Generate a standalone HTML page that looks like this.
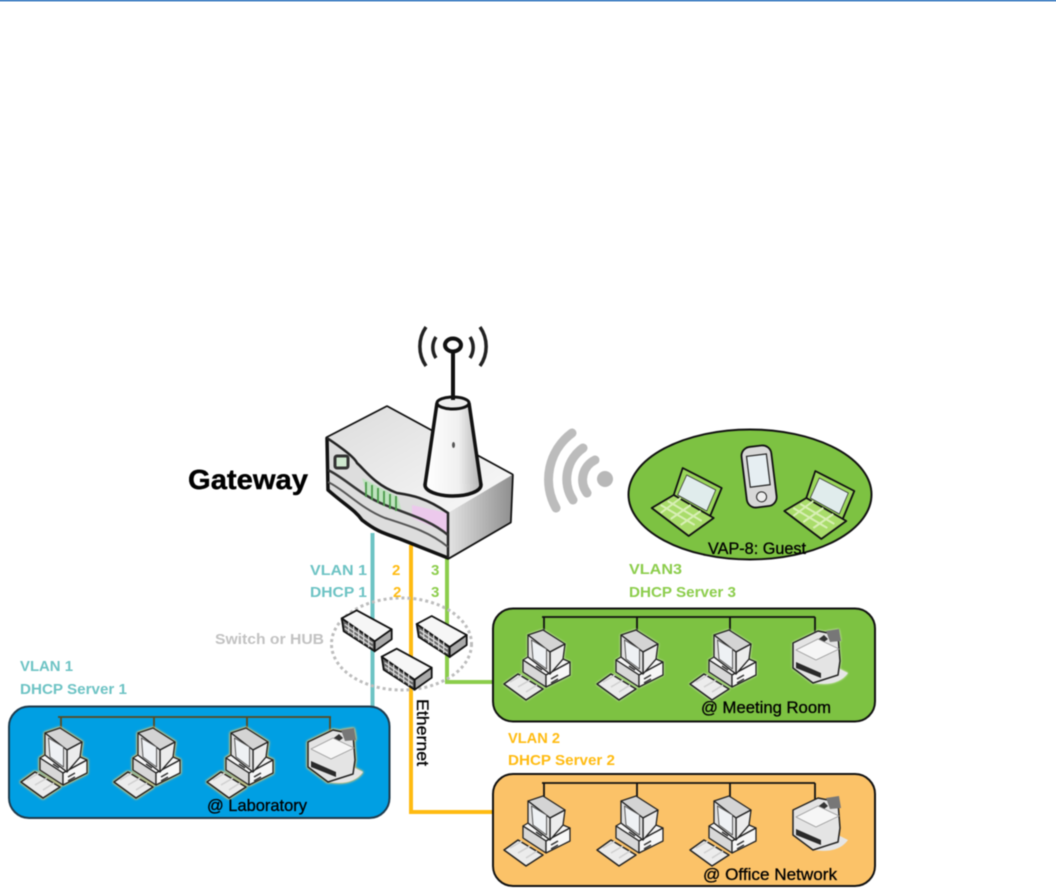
<!DOCTYPE html>
<html><head><meta charset="utf-8"><style>
html,body{margin:0;padding:0;background:#fff}
svg{display:block}
text{font-family:"Liberation Sans",sans-serif}
#art{filter:blur(.45px)}
</style></head><body>
<svg width="1056" height="888" viewBox="0 0 1056 888" xmlns="http://www.w3.org/2000/svg">
<defs>
<linearGradient id="side" x1="0" x2="1" y1="0" y2="0"><stop offset="0" stop-color="#e4e4e4"/><stop offset="1" stop-color="#8f8f8f"/></linearGradient>
<linearGradient id="top" x1="0" x2="1" y1="0" y2="1"><stop offset="0" stop-color="#dcdcdc"/><stop offset="1" stop-color="#fafafa"/></linearGradient>
<linearGradient id="cone" x1="0" x2="1" y1="0" y2="0"><stop offset="0" stop-color="#fff"/><stop offset=".6" stop-color="#f0f0f0"/><stop offset="1" stop-color="#b5b5b5"/></linearGradient>
<g id="pc" stroke-linejoin="round">
 <polygon points="-21,28 2,43 26,30 19,27 6,42 -16,25" fill="#f5f5f5" stroke="#222" stroke-width="1.300"/>
 <polygon points="-21,28 2,43 2,55 -21,40" fill="#d8d8d8" stroke="#222" stroke-width="1.300"/>
 <polygon points="2,43 26,30 26,43 2,55" fill="#f7f7f7" stroke="#222" stroke-width="1.300"/>
 <polygon points="-16,3 -1,-2 21,12 6,20" fill="#d4d4d4" stroke="#222" stroke-width="1.300"/>
 <polygon points="6,20 21,12 19,27 6,42" fill="#ececec" stroke="#222" stroke-width="1.300"/>
 <polygon points="-16,3 6,20 6,42 -16,25" fill="#e2e2e2" stroke="#222" stroke-width="1.300"/>
 <polygon points="-12.500,8 2.500,17 2.500,37 -11,27" fill="#eef1f4" stroke="#555" stroke-width="1"/>
 <path d="M-8 34 L-2 38 M7 47 L14 43 M7 51 L14 47" stroke="#333" stroke-width="1.500"/>
 <polygon points="-40,52 -26,42 -1,57 -18,68" fill="#ececec" stroke="#222" stroke-width="1.500"/>
 <path d="M-34 50 L-22 43 M-26 55 L-14 48 M-18 60 L-7 53" stroke="#cfcfcf" stroke-width="1.500"/>
</g>
<g id="printer" stroke-linejoin="round">
 <path d="M-5 25 Q20 29 30 15 L20 10 Z" fill="#e6e6e6"/>
 <path d="M-25 -15 L0 -27 L20 -23 L22 3 L20 17 L-5 25 L-25 10 Z" fill="#e4e4e4" stroke="#222" stroke-width="1.500"/>
 <polygon points="8,-27 21,-29 23,-17 12,-16" fill="#777"/>
 <polygon points="-7,-13 6,-23 10,-19 -3,-9" fill="#333"/>
 <polygon points="-22,-8 -2,2 21,-9 0,-19" fill="#f6f6f6" stroke="#999" stroke-width=".8"/>
 <polygon points="-22,4 3,15 3,20 -22,10" fill="#2a2a2a"/>
</g>
<g id="sw" stroke-linejoin="round">
 <polygon points="0,0 2,13 33,33 33,23" fill="#6a6a6a" stroke="#111" stroke-width="1.800"/>
 <polygon points="0,0 15,-8 50,11 33,23" fill="#f6f6f6" stroke="#111" stroke-width="1.800"/>
 <polygon points="33,23 50,11 50,21 33,33" fill="#aaa" stroke="#111" stroke-width="1.800"/>
 <path d="M3 6 L31 25 M3 10 L31 29 M7 4 L7 15 M12 8 L12 19 M17 11 L17 22 M22 14 L22 26 M27 18 L27 29" stroke="#e2e2e2" stroke-width="1.100" fill="none"/>
</g>
<g id="lap" stroke-linejoin="round">
 <polygon points="32,-42 71,-22 59,7 23,-15" fill="#9ad65a" stroke="#111" stroke-width="1.800"/>
 <polygon points="36,-35 65,-20 56,1 27,-15" fill="#e0ecec" stroke="#333" stroke-width=".8"/>
 <polygon points="1,-2 23,-15 63,8 38,26" fill="#a9dc6a" stroke="#111" stroke-width="1.800"/>
 <path d="M10 -5 L44 15 M17 -9 L51 11 M10 3 L30 -12 M20 9 L40 -5 M30 15 L50 1" stroke="#d8efb5" stroke-width="2" fill="none"/>
</g>
</defs>

<rect x="0" y="0" width="1056" height="1.500" fill="#4a86c6"/>

<g id="art">
<!-- lines -->
<path d="M372.500 533 V706" stroke="#6dc3c4" stroke-width="4" fill="none"/>
<path d="M411 545 V812 H494" stroke="#ffbb12" stroke-width="4" fill="none"/>
<path d="M447 556 V682 H494" stroke="#8ccd4c" stroke-width="4" fill="none"/>

<!-- switch circle -->
<ellipse cx="401.500" cy="644" rx="70" ry="46" fill="none" stroke="#bdbdbd" stroke-width="3" stroke-dasharray="3 3"/>
<use href="#sw" x="341.700" y="618.300"/>
<use href="#sw" x="416.700" y="624"/>
<use href="#sw" x="381.700" y="656.700"/>

<!-- router -->
<path d="M327 438 L387 407 L512 475 L510 522 L448 558 L400 539 C380 532 375 530 362 520 C355 510 345 505 328 490 Z" fill="#ddd" stroke="#111" stroke-width="3.500" stroke-linejoin="round"/>
<polygon points="448,513 512,475 510,522 448,558" fill="url(#side)"/>
<path d="M327 438 L387 407 L512 475 L448 513 C425 497 410 495 397 493 C375 485 365 470 357 463 Z" fill="url(#top)"/>
<path d="M362 478 L398 497 L402 512 L368 498Z" fill="#bfe3bf"/>
<path d="M412 505 L447 513 L447 533 L412 518Z" fill="#ecc9ec"/>
<path d="M327 438 C345 450 355 458 357 463 C365 470 375 485 397 493 C410 495 425 497 448 513 V558" fill="none" stroke="#222" stroke-width="2.500"/>
<path d="M328 470 C345 478 360 495 385 505 C410 515 430 520 448 535" fill="none" stroke="#333" stroke-width="2.500"/>
<path d="M328 482 C345 490 360 508 385 518 C410 526 430 532 448 547" fill="none" stroke="#555" stroke-width="2"/>
<path d="M366 482 V497 M372 485 V500 M378 488 V503 M384 491 V506 M390 494 V509 M396 496 V511" stroke="#4a9a4a" stroke-width="1.800"/>
<rect x="335" y="456" width="13" height="12" rx="2" fill="#cfe8cf" stroke="#333" stroke-width="3"/>
<polygon points="438,403 468,403 481,484 425,484" fill="url(#cone)"/>
<ellipse cx="453" cy="485" rx="28" ry="11" fill="url(#cone)" stroke="#111" stroke-width="3.500"/>
<polygon points="438,403 468,403 480,484 426,484" fill="url(#cone)"/>
<path d="M437 403 L425 485 M469 403 L481 485" stroke="#111" stroke-width="3.500"/>
<ellipse cx="453" cy="403" rx="16" ry="6" fill="#eee" stroke="#111" stroke-width="3"/>
<ellipse cx="453.500" cy="445" rx="1.500" ry="3" fill="#555"/>
<path d="M453 350 V400" stroke="#111" stroke-width="4"/>
<ellipse cx="453" cy="345" rx="8" ry="6.500" fill="#fff" stroke="#111" stroke-width="4"/>
<path d="M436 337 A19 19 0 0 0 436 358 M470 337 A19 19 0 0 1 470 358" fill="none" stroke="#222" stroke-width="3.500"/>
<path d="M426 327 A34 34 0 0 0 426 366 M480 327 A34 34 0 0 1 480 366" fill="none" stroke="#222" stroke-width="3.500"/>

<!-- wifi -->
<circle cx="605" cy="479" r="8" fill="#b8b8b8"/>
<g fill="none" stroke="#bcbcbc" stroke-width="9" stroke-linecap="round">
<path d="M595 460 A22 22 0 0 0 587 493"/>
<path d="M583 448 A38 38 0 0 0 573 500"/>
<path d="M572 433 A58 58 0 0 0 556 508"/>
</g>

<!-- guest ellipse -->
<ellipse cx="750" cy="494.500" rx="121.500" ry="65" fill="#7dc242" stroke="#111" stroke-width="2"/>
<use href="#lap" x="650.700" y="510"/>
<use href="#lap" x="783.300" y="513"/>
<g transform="rotate(-7 759 476)">
<rect x="744" y="446" width="30" height="61" rx="9" fill="#d8d8d8" stroke="#111" stroke-width="1.800"/>
<rect x="749" y="455" width="20" height="31" fill="#e6eef2" stroke="#222" stroke-width="1.200"/>
<circle cx="759" cy="497" r="5" fill="#eee" stroke="#222"/>
</g>

<!-- lab -->
<rect x="9" y="706.500" width="380.500" height="111.500" rx="20" fill="#009fe3" stroke="#1f3b4d" stroke-width="2"/>
<path d="M58 717 H331 M61 717 V731 M154 717 V731 M247 717 V731 M330 717 V733" stroke="#5a4a20" stroke-width="1.800" fill="none"/>
<g style="filter:drop-shadow(0 0 1px #f7c96a) drop-shadow(0 0 1px #f7c96a)">
<use href="#pc" x="61" y="730"/><use href="#pc" x="154" y="730"/><use href="#pc" x="247" y="730"/>
<use href="#printer" x="333" y="757"/>
</g>

<!-- green -->
<rect x="493" y="608.500" width="382" height="113" rx="20" fill="#7dc242" stroke="#111" stroke-width="2"/>
<path d="M542 617 H815 M544 617 V632 M637 617 V632 M730 617 V632 M815 617 V634" stroke="#111" stroke-width="1.800" fill="none"/>
<g style="filter:drop-shadow(0 0 1px #eef5e0)">
<use href="#pc" x="544" y="632"/><use href="#pc" x="637" y="632"/><use href="#pc" x="730" y="632"/>
<use href="#printer" x="818" y="658"/>
</g>

<!-- orange -->
<rect x="493" y="774" width="382" height="112" rx="20" fill="#fbc268" stroke="#111" stroke-width="2"/>
<path d="M542 783 H815 M544 783 V798 M637 783 V798 M730 783 V798 M815 783 V800" stroke="#111" stroke-width="1.800" fill="none"/>
<use href="#pc" x="544" y="798"/><use href="#pc" x="637" y="798"/><use href="#pc" x="730" y="798"/>
<use href="#printer" x="818" y="825"/>

<!-- labels -->
<text x="188" y="489" font-size="28" font-weight="bold" textLength="120" lengthAdjust="spacingAndGlyphs" fill="#000" stroke="#000" stroke-width=".4">Gateway</text>
<g font-size="15" font-weight="bold">
<g fill="#6dc3c4">
<text x="310" y="575" textLength="57" lengthAdjust="spacingAndGlyphs">VLAN 1</text>
<text x="310" y="597" textLength="57" lengthAdjust="spacingAndGlyphs">DHCP 1</text>
<text x="20" y="671" textLength="53" lengthAdjust="spacingAndGlyphs">VLAN 1</text>
<text x="20" y="694" textLength="107" lengthAdjust="spacingAndGlyphs">DHCP Server 1</text>
</g>
<g fill="#ffbb12">
<text x="392" y="575">2</text>
<text x="393" y="597">2</text>
<text x="508" y="743" textLength="52" lengthAdjust="spacingAndGlyphs">VLAN 2</text>
<text x="508" y="765" textLength="107" lengthAdjust="spacingAndGlyphs">DHCP Server 2</text>
</g>
<g fill="#8ccd4c">
<text x="431" y="575">3</text>
<text x="431" y="597">3</text>
<text x="629" y="574" textLength="53" lengthAdjust="spacingAndGlyphs">VLAN3</text>
<text x="629" y="597" textLength="107" lengthAdjust="spacingAndGlyphs">DHCP Server 3</text>
</g>
<text x="215" y="644" fill="#c2c2c2" textLength="109" lengthAdjust="spacingAndGlyphs">Switch or HUB</text>
</g>
<g font-size="16.500" fill="#000" stroke="#000" stroke-width=".3">
<text x="708" y="554" textLength="98" lengthAdjust="spacingAndGlyphs">VAP-8: Guest</text>
<text x="207" y="811" textLength="100" lengthAdjust="spacingAndGlyphs">@ Laboratory</text>
<text x="701" y="713" textLength="130" lengthAdjust="spacingAndGlyphs">@ Meeting Room</text>
<text x="703" y="880" textLength="134" lengthAdjust="spacingAndGlyphs">@ Office Network</text>
<text transform="translate(417 699) rotate(90)" textLength="67" lengthAdjust="spacingAndGlyphs">Ethernet</text>
</g>
</g>
</svg>
</body></html>
